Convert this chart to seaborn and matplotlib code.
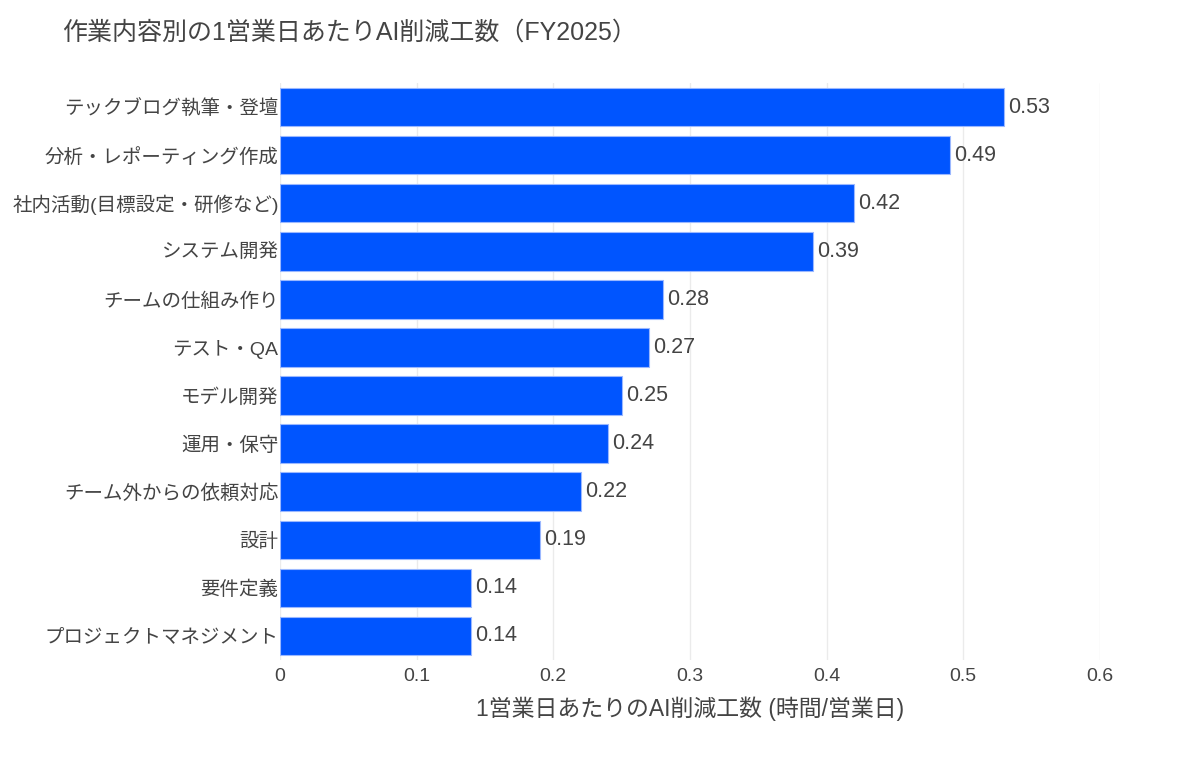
import matplotlib
matplotlib.use("Agg")
import matplotlib.pyplot as plt
import seaborn as sns
import pandas as pd

categories = [
    "テックブログ執筆・登壇",
    "分析・レポーティング作成",
    "社内活動(目標設定・研修など)",
    "システム開発",
    "チームの仕組み作り",
    "テスト・QA",
    "モデル開発",
    "運用・保守",
    "チーム外からの依頼対応",
    "設計",
    "要件定義",
    "プロジェクトマネジメント",
]
values = [0.53, 0.49, 0.42, 0.39, 0.28, 0.27, 0.25, 0.24, 0.22, 0.19, 0.14, 0.14]
xticks = [0, 0.1, 0.2, 0.3, 0.4, 0.5, 0.6]
xtick_labels = ["0", "0.1", "0.2", "0.3", "0.4", "0.5", "0.6"]

sns.set_theme(style="white")
FAM = ['Liberation Sans', 'Noto Sans CJK JP', 'DejaVu Sans']
plt.rcParams['font.family'] = FAM

df = pd.DataFrame({"category": categories, "value": values})

fig = plt.figure(figsize=(12, 7.68), dpi=100)
ax = fig.add_axes([0.2333, 0.1406, 0.6833, 0.7513])

sns.barplot(data=df, x="value", y="category", orient="h", color="#0055FF",
            saturation=1, width=0.8, edgecolor="#9bb8ff", linewidth=0.8, ax=ax)

ax.set_xlim(0, 0.6)
ax.set_xticks(xticks)
ax.set_xticklabels(xtick_labels)
ax.xaxis.grid(True, color="#ebebeb", linewidth=1)
ax.set_axisbelow(True)
for s in ax.spines.values():
    s.set_visible(False)
ax.tick_params(axis='x', length=0, labelsize=14, colors="#444444", pad=6)
ax.tick_params(axis='y', length=0, labelsize=14, colors="#444444", pad=1)

for i, v in enumerate(values):
    ax.text(v + 0.003, i, f"{v:.2f}", va="center", ha="left",
            fontsize=15.5, color="#444444")

ax.set_ylabel("")
ax.set_xlabel("1営業日あたりのAI削減工数 (時間/営業日)", fontsize=16.5, color="#444444", labelpad=8)
fig.text(62/1200, 1 - 33/768, "作業内容別の1営業日あたりAI削減工数（FY2025）",
         fontsize=18, color="#444444", va="center", ha="left")

fig.savefig("out.png", dpi=100)
